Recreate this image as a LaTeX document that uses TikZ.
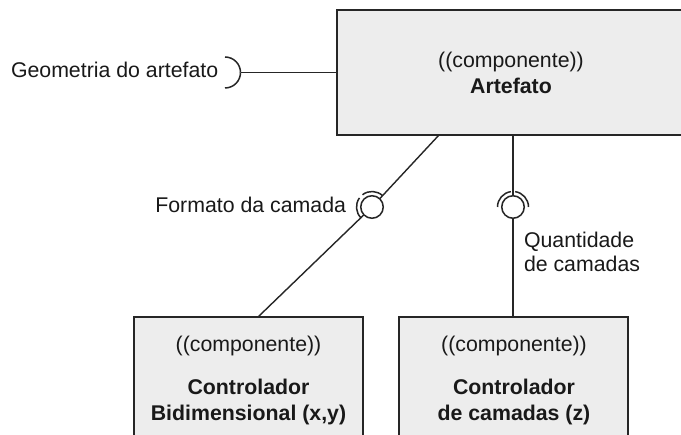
\documentclass[tikz,border=0pt]{standalone}
\usepackage{fontspec}
\setmainfont{Liberation Sans}
\begin{document}
\begin{tikzpicture}[x=1pt,y=-1pt,
  every node/.style={font=\fontsize{21.3}{26}\selectfont, text=black!90, inner sep=0pt, outer sep=0pt},
  box/.style={draw=black!85, fill=black!7, line width=1.5pt, rectangle, anchor=north west},
  conn/.style={draw=black!85, line width=1.4pt},
  ball/.style={circle, draw=black!85, fill=white, line width=1.5pt, minimum size=22.5pt},
  sock/.style={draw=black!85, line width=1.5pt},
  lbl/.style={anchor=base}
]
\useasboundingbox (0,0) rectangle (681,435);
\fill[white] (0,0) rectangle (681,435);

% boxes
\node[box, minimum width=348pt, minimum height=125pt] (art) at (337,10) {};
\node[box, minimum width=229pt, minimum height=128pt] (ctrlA) at (134,317) {};
\node[box, minimum width=229pt, minimum height=128pt] (ctrlB) at (399,317) {};

% box texts
\node[lbl] (artS) at (511,68) {((componente))};
\node[lbl] (artN) at (511,94) {\bfseries Artefato};
\node[lbl] (aS) at (248.5,352) {((componente))};
\node[lbl] (aN1) at (248.5,395) {\bfseries Controlador};
\node[lbl] (aN2) at (248.5,421) {\bfseries Bidimensional (x,y)};
\node[lbl] (bS) at (514,352) {((componente))};
\node[lbl] (bN1) at (514,395) {\bfseries Controlador};
\node[lbl] (bN2) at (514,421) {\bfseries de camadas (z)};

% interface Geometria (required, socket only)
\coordinate (geoS) at (240.5,72.5);
\draw[conn] (art.west) -- (geoS);
\draw[sock] (geoS) arc[start angle=0, end angle=90, radius=15.5];
\draw[sock] (geoS) arc[start angle=0, end angle=-90, radius=15.5];
\node[anchor=base west] (geoL) at (11,78) {Geometria do artefato};

% interface Formato da camada (diagonal)
\coordinate (pA) at (439,135);
\coordinate (pB) at (258,317);
\node[ball] (ball1) at (372,207) {};
\draw[conn] (pA) -- (ball1);
\draw[conn] (ball1) -- (pB);
\draw[sock] ([shift={(134:15.5)}]ball1.center) arc[start angle=134, end angle=216, radius=15.5];
\draw[sock] ([shift={(232:15.5)}]ball1.center) arc[start angle=232, end angle=314, radius=15.5];
\node[anchor=base east] (fmtL) at (346,213) {Formato da camada};

% interface Quantidade de camadas (vertical)
\node[ball] (ball2) at (513,207) {};
\draw[conn] (ball2 |- art.south) -- (ball2);
\draw[conn] (ball2) -- (ball2 |- ctrlB.north);
\draw[sock] ([shift={(180:15.5)}]ball2.center) arc[start angle=180, end angle=262, radius=15.5];
\draw[sock] ([shift={(278:15.5)}]ball2.center) arc[start angle=278, end angle=360, radius=15.5];
\node[anchor=base west] (qL1) at (524,248) {Quantidade};
\node[anchor=base west] (qL2) at (524,272) {de camadas};
\end{tikzpicture}
\end{document}
